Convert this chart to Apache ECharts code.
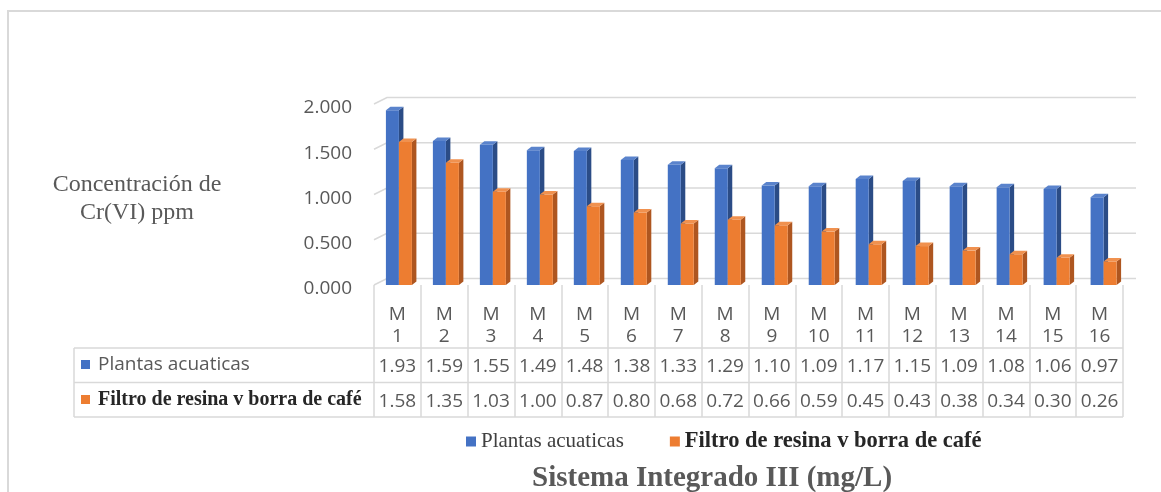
<!DOCTYPE html>
<html>
<head>
<meta charset="utf-8">
<script src="https://cdn.jsdelivr.net/npm/echarts@6/dist/echarts.min.js"></script>
<style>
  html, body { margin: 0; padding: 0; background: #ffffff; }
  #chart { width: 1161px; height: 492px; }
</style>
</head>
<body>
<div id="chart"></div>
<script>
// Muestras M1..M16 y concentraciones de Cr(VI) (ppm)
const categories = ['M 1', 'M 2', 'M 3', 'M 4', 'M 5', 'M 6', 'M 7', 'M 8',
                    'M 9', 'M 10', 'M 11', 'M 12', 'M 13', 'M 14', 'M 15', 'M 16'];
const plantas = [1.93, 1.59, 1.55, 1.49, 1.48, 1.38, 1.33, 1.29,
                 1.10, 1.09, 1.17, 1.15, 1.09, 1.08, 1.06, 0.97];
const filtro  = [1.58, 1.35, 1.03, 1.00, 0.87, 0.80, 0.68, 0.72,
                 0.66, 0.59, 0.45, 0.43, 0.38, 0.34, 0.30, 0.26];
const yTicks = [0, 0.5, 1, 1.5, 2];
const seriesNames = ['Plantas acuaticas', 'Filtro de resina v borra de café'];
const chartTitle = 'Sistema Integrado III (mg/L)';
const yTitle = 'Concentración de\nCr(VI) ppm';

// Geometría del área de trazado y de la tabla de datos
const G = { left: 374, right: 38, top: 104, height: 181 };
const WALL = { dx: 13, dy: 6.5 };     // profundidad de las paredes 3D
const BAR = { w: 13, dx: 4.5, dy: 3.5 }; // ancho y profundidad de cada columna
const TABLE = { x0: 74, rows: [348, 382.5, 417] };
const GRID_COLOR = '#d9d9d9';
const TEXT_GRAY = '#595959';
const SANS = '"Open Sans", "Liberation Sans", sans-serif';
const SERIF = '"Liberation Serif", "DejaVu Serif", serif';

const palette = [
  { front: '#4472C4', side: '#2B4C86', top: '#5A83CC' },
  { front: '#ED7D31', side: '#AE5620', top: '#F0914F' }
];

// Columna con cara frontal, lateral y superior
function columnRenderer(slot) {
  const c = palette[slot];
  return function (params, api) {
    const i = api.value(0);
    const v = api.value(1);
    const topPt = api.coord([i, v]);
    const basePt = api.coord([i, 0]);
    const drift = 1.5 + 2.5 * i / (categories.length - 1);
    const x1 = topPt[0] + drift + (slot === 0 ? -BAR.w : 0);
    const x2 = x1 + BAR.w;
    const yT = topPt[1];
    const yB = basePt[1];
    return {
      type: 'group',
      children: [
        { type: 'polygon',
          shape: { points: [[x2, yT], [x2 + BAR.dx, yT - BAR.dy], [x2 + BAR.dx, yB - BAR.dy], [x2, yB]] },
          style: { fill: c.side } },
        { type: 'rect',
          shape: { x: x1, y: yT, width: BAR.w, height: yB - yT },
          style: { fill: c.front } },
        { type: 'polygon',
          shape: { points: [[x1, yT], [x1 + BAR.dx, yT - BAR.dy], [x2 + BAR.dx, yT - BAR.dy], [x2, yT]] },
          style: { fill: c.top } }
      ]
    };
  };
}

// Líneas de la pared del fondo y la pared lateral
function wallRenderer(params, api) {
  const v = api.value(1);
  const cs = params.coordSys;
  const y = api.coord([0, v])[1];
  const x0 = cs.x;
  return {
    type: 'polyline',
    shape: { points: [[x0, y], [x0 + WALL.dx, y - WALL.dy], [x0 + cs.width + WALL.dx, y - WALL.dy]] },
    style: { stroke: GRID_COLOR, lineWidth: 1.5, fill: null }
  };
}

const chart = echarts.init(document.getElementById('chart'), null, { renderer: 'canvas' });

const rowAxis = (values, margin) => ({
  type: 'category',
  data: categories,
  position: 'bottom',
  axisLine: { show: false },
  axisTick: { show: false },
  splitLine: { show: false },
  axisLabel: {
    interval: 0,
    margin: margin,
    fontFamily: SANS,
    fontSize: 19,
    color: TEXT_GRAY,
    formatter: (val, idx) => values[idx].toFixed(2)
  }
});

chart.setOption({
  animation: false,
  backgroundColor: '#ffffff',
  title: {
    text: chartTitle,
    left: 527,
    top: 459,
    textStyle: { fontFamily: SERIF, fontWeight: 'bold', fontSize: 29, color: TEXT_GRAY }
  },
  legend: {
    data: seriesNames,
    left: 461,
    top: 425,
    icon: 'rect',
    itemWidth: 10,
    itemHeight: 10,
    itemGap: 46,
    formatter: name => name === seriesNames[0] ? '{a|' + name + '}' : '{b|' + name + '}',
    textStyle: {
      rich: {
        a: { fontFamily: SERIF, fontSize: 21, color: '#404040' },
        b: { fontFamily: SERIF, fontSize: 22.5, fontWeight: 'bold', color: '#262626' }
      }
    }
  },
  grid: { left: G.left, right: G.right, top: G.top, height: G.height },
  xAxis: [
    {
      type: 'category',
      data: categories,
      position: 'bottom',
      axisLine: { show: false },
      axisTick: { show: true, interval: 0, length: TABLE.rows[2] - (G.top + G.height), lineStyle: { color: GRID_COLOR, width: 1.5 } },
      splitLine: { show: false },
      axisLabel: {
        interval: 0,
        margin: 19,
        fontFamily: SANS,
        fontSize: 19,
        lineHeight: 22,
        color: TEXT_GRAY,
        formatter: v => v.replace(' ', '\n')
      }
    },
    rowAxis(plantas, 72),
    rowAxis(filtro, 107)
  ],
  yAxis: {
    type: 'value',
    min: 0,
    max: 2,
    interval: 0.5,
    axisLine: { show: false },
    axisTick: { show: false },
    splitLine: { show: false },
    axisLabel: {
      margin: 22,
      fontFamily: SANS,
      fontSize: 19,
      color: TEXT_GRAY,
      verticalAlign: 'top',
      lineHeight: 8,
      formatter: v => v.toFixed(3)
    }
  },
  series: [
    {
      type: 'custom',
      silent: true,
      renderItem: wallRenderer,
      data: yTicks.map(v => [0, v]),
      z: 1
    },
    {
      name: seriesNames[0],
      type: 'custom',
      renderItem: columnRenderer(0),
      itemStyle: { color: palette[0].front },
      data: plantas.map((v, i) => [i, v]),
      z: 2
    },
    {
      name: seriesNames[1],
      type: 'custom',
      renderItem: columnRenderer(1),
      itemStyle: { color: palette[1].front },
      data: filtro.map((v, i) => [i, v]),
      z: 3
    }
  ],
  graphic: [
    // marco exterior
    { type: 'polyline', shape: { points: [[8, 492], [8, 11], [1161, 11]] },
      style: { stroke: GRID_COLOR, lineWidth: 2, fill: null } },
    // título del eje vertical
    { type: 'text', x: 137, y: 199,
      style: { text: yTitle, align: 'center', verticalAlign: 'middle',
               font: '24px ' + SERIF, fill: TEXT_GRAY, lineHeight: 28 } },
    // bordes de la tabla de datos
    ...TABLE.rows.map(y => ({
      type: 'line',
      shape: { x1: TABLE.x0, y1: y, x2: 1161 - G.right, y2: y },
      style: { stroke: GRID_COLOR, lineWidth: 1.5 }
    })),
    { type: 'line', shape: { x1: TABLE.x0, y1: TABLE.rows[0], x2: TABLE.x0, y2: TABLE.rows[2] },
      style: { stroke: GRID_COLOR, lineWidth: 1.5 } },
    // claves de serie en la tabla
    { type: 'rect', shape: { x: 81, y: 360, width: 9, height: 9 }, style: { fill: palette[0].front } },
    { type: 'text', x: 98, y: 365,
      style: { text: seriesNames[0], verticalAlign: 'middle', font: '19px ' + SANS, fill: TEXT_GRAY } },
    { type: 'rect', shape: { x: 81, y: 395, width: 9, height: 9 }, style: { fill: palette[1].front } },
    { type: 'text', x: 98, y: 400,
      style: { text: seriesNames[1], verticalAlign: 'middle', font: 'bold 20px ' + SERIF, fill: '#262626' } }
  ]
});
</script>
</body>
</html>
